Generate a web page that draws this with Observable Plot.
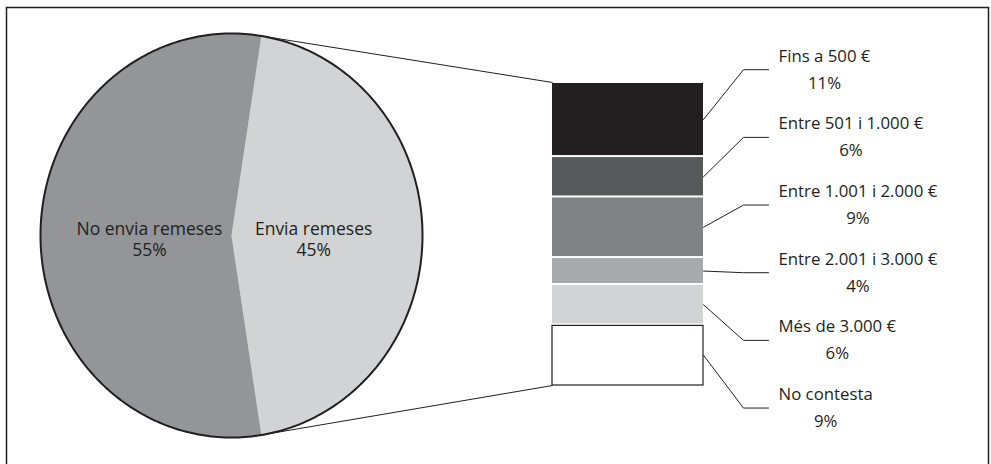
<!DOCTYPE html>
<html><head><meta charset="utf-8">
<script src="https://cdn.jsdelivr.net/npm/d3@7"></script>
<script src="https://cdn.jsdelivr.net/npm/@observablehq/plot@0.6"></script>
<style>html,body{margin:0;padding:0;background:#fff;overflow:hidden}</style>
</head><body><div id="chart"></div>
<script>
// ---- data ----
const pieCategories = ["Envia remeses", "No envia remeses"];
const pieValues = [45, 55];
const pieColors = ["#d1d3d4", "#939598"];

const barCategories = ["Fins a 500 €", "Entre 501 i 1.000 €", "Entre 1.001 i 2.000 €", "Entre 2.001 i 3.000 €", "Més de 3.000 €", "No contesta"];
const barValues = [11, 6, 9, 4, 6, 9];
const barColors = ["#231f20", "#58595b", "#808285", "#a7a9ac", "#d1d3d4", "#ffffff"];

// ---- layout (scale units: x bar width = 1, y = percentage points of the bar) ----
const ink = "#231f20";
const font = "Open Sans";
const labelSize = 16.8, pieLabelSize = 17.5;
const barTotal = d3.sum(barValues);
const pxPerY = (385 - 82) / barTotal;
const pxPerX = 703 - 552;
const pie = {cx: (231 - 552) / pxPerX, cy: (235 - 82) / pxPerY, rx: 191 / pxPerX, ry: 202 / pxPerY};
const kneeX = (743 - 552) / pxPerX, lineEndX = (768 - 552) / pxPerX, textX = (778 - 552) / pxPerX;
const kneeY0 = -1.9, kneeStep = 10.05, lineOff = 13.5 / pxPerY;

const pt = a => ({x: pie.cx + pie.rx * Math.sin(a), y: pie.cy - pie.ry * Math.cos(a)});

// slices: first slice (Envia) centred on the right-hand side
const pieTotal = d3.sum(pieValues);
let ang = Math.PI / 2 - (pieValues[0] / pieTotal) * Math.PI;
const slices = pieCategories.map((c, i) => {
  const a0 = ang, a1 = ang + (pieValues[i] / pieTotal) * 2 * Math.PI;
  ang = a1;
  const n = Math.max(8, Math.round((a1 - a0) / (2 * Math.PI) * 360));
  const pts = [{x: pie.cx, y: pie.cy}];
  for (let k = 0; k <= n; k++) pts.push(pt(a0 + (a1 - a0) * k / n));
  pts.push({x: pie.cx, y: pie.cy});
  const mid = (a0 + a1) / 2;
  return {name: c, value: pieValues[i], color: pieColors[i], a0, a1, pts,
          lx: pie.cx + 0.43 * pie.rx * Math.sin(mid), ly: pie.cy - 0.43 * pie.ry * Math.cos(mid) + 3 / pxPerY};
});
const outline = d3.range(0, 361).map(k => pt(k / 360 * 2 * Math.PI));

// connectors from the "Envia" slice edges to the bar
const connectors = [
  {...pt(slices[0].a0), x2: 0, y2: 0},
  {...pt(slices[0].a1), x2: 0, y2: barTotal}
];

// bar rows
let cum = 0;
const barRows = barCategories.map((c, i) => {
  const r = {name: c, value: barValues[i], color: barColors[i], y1: cum, y2: cum + barValues[i], last: i === barCategories.length - 1};
  cum += barValues[i];
  return r;
});

// leader lines + labels
const ctx = document.createElement("canvas").getContext("2d");
ctx.font = `${labelSize}px "${font}"`;
const leaders = [], labels = [];
barRows.forEach((r, i) => {
  const ky = kneeY0 + kneeStep * i;
  leaders.push({i, x: 1, y: (r.y1 + r.y2) / 2}, {i, x: kneeX, y: ky}, {i, x: lineEndX, y: ky});
  const w = ctx.measureText(r.name).width / pxPerX;
  labels.push({name: r.name, pct: r.value + "%", x: textX + w / 2, y1: ky - lineOff, y2: ky + lineOff});
});

const chart = Plot.plot({
  width: 991, height: 467,
  marginLeft: 6, marginTop: 7, marginRight: 3, marginBottom: 0,
  x: {domain: [0, 1], range: [552, 703], axis: null},
  y: {domain: [0, barTotal], range: [82, 385], axis: null},
  color: {type: "identity"},
  style: {fontFamily: font, color: ink, background: "#fff"},
  marks: [
    Plot.frame({stroke: ink, strokeWidth: 1.5}),
    ...slices.map(s => Plot.line(s.pts, {x: "x", y: "y", fill: s.color, stroke: "none", curve: "linear"})),
    Plot.line(outline, {x: "x", y: "y", stroke: ink, strokeWidth: 2, fill: "none"}),
    Plot.link(connectors, {x1: "x", y1: "y", x2: "x2", y2: "y2", stroke: ink, strokeWidth: 1}),
    Plot.text(slices, {x: "lx", y: "ly", text: d => `${d.name}\n${d.value}%`, fill: ink, fontSize: pieLabelSize, lineHeight: 1.25, textAnchor: "middle", lineAnchor: "middle"}),
    Plot.rectY(barRows, Plot.stackY({x1: 0, x2: 1, y: "value", fill: "color", insetTop: 1, insetBottom: 1})),
    Plot.rect(barRows.filter(d => d.last), {x1: 0, x2: 1, y1: "y1", y2: "y2", fill: "none", stroke: ink, strokeWidth: 1.2, insetTop: 1, insetBottom: 0}),
    Plot.line(leaders, {x: "x", y: "y", z: "i", stroke: ink, strokeWidth: 1}),
    Plot.text(labels, {x: "x", y: "y1", text: "name", fill: ink, fontSize: labelSize, textAnchor: "middle"}),
    Plot.text(labels, {x: "x", y: "y2", text: "pct", fill: ink, fontSize: labelSize, textAnchor: "middle"})
  ]
});
document.getElementById("chart").appendChild(chart);
</script>
</body></html>
